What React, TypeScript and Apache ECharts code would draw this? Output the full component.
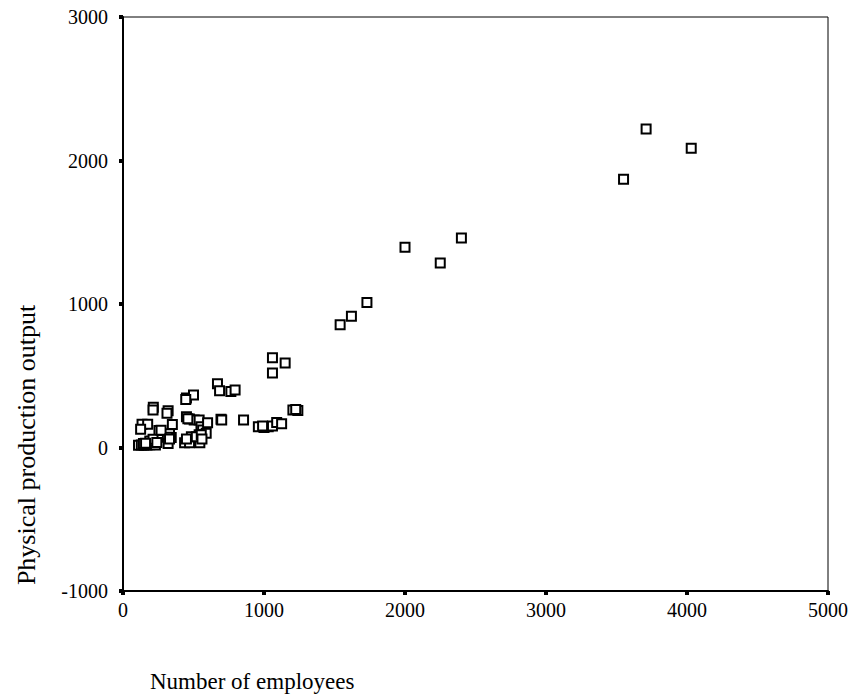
import React, { useEffect, useRef } from "react";
import * as echarts from "echarts";

const xTicks = [0, 1000, 2000, 3000, 4000, 5000];
const yTicks = [-1000, 0, 1000, 2000, 3000];
const xTitle = "Number of employees";
const yTitle = "Physical production output";

// [employees, output]
const points: [number, number][] = [
  [4030, 2085], [3710, 2220], [3550, 1870], [2400, 1460], [2000, 1395], [2250, 1285],
  [1730, 1010], [1620, 915], [1540, 855],
  [1060, 625], [1150, 588], [1060, 520],
  [670, 445], [685, 396], [765, 390], [795, 400],
  [450, 345], [500, 365], [445, 335],
  [215, 280], [213, 262], [320, 256], [312, 238],
  [1205, 262], [1240, 258], [1225, 265],
  [135, 162], [175, 162], [125, 128],
  [255, 118], [330, 95], [342, 70], [315, 72], [350, 160],
  [450, 215], [472, 198], [505, 192], [540, 192], [460, 200],
  [553, 145], [565, 122], [590, 100], [540, 88],
  [600, 172], [695, 196], [700, 192], [855, 192],
  [960, 145], [1000, 140], [1030, 145], [1060, 150], [990, 150],
  [1090, 175], [1125, 165],
  [437, 33], [472, 33], [545, 33], [485, 75], [520, 75], [555, 88],
  [110, 15], [130, 17], [150, 15], [170, 18], [190, 20], [210, 25], [230, 18],
  [145, 28], [190, 45], [213, 58], [320, 28], [270, 120], [160, 30], [240, 35],
  [330, 60], [560, 60], [450, 60],
];

const FONT = '"Liberation Serif", "Times New Roman", serif';

export default function App() {
  const ref = useRef<HTMLDivElement>(null);
  useEffect(() => {
    if (!ref.current) return;
    const chart = echarts.init(ref.current, null, { renderer: "svg" });
    chart.setOption({
      animation: false,
      backgroundColor: "#fff",
      grid: {
        left: 123,
        top: 17,
        width: 710,
        height: 574,
        show: true,
        borderColor: "#000",
        borderWidth: 1,
        backgroundColor: "transparent",
      },
      xAxis: {
        type: "value",
        min: xTicks[0],
        max: xTicks[xTicks.length - 1],
        interval: 1000,
        axisLine: { show: true, onZero: false, lineStyle: { color: "#000", width: 2 } },
        axisTick: { show: true, length: 4, lineStyle: { color: "#000", width: 4 } },
        axisLabel: {
          color: "#000",
          fontFamily: FONT,
          fontSize: 20,
          margin: 9,
          formatter: (v: number) => String(v),
        },
        splitLine: { show: false },
      },
      yAxis: {
        type: "value",
        min: yTicks[0],
        max: yTicks[yTicks.length - 1],
        interval: 1000,
        axisLine: { show: true, onZero: false, lineStyle: { color: "#000", width: 2 } },
        axisTick: { show: true, length: 4, lineStyle: { color: "#000", width: 4 } },
        axisLabel: {
          color: "#000",
          fontFamily: FONT,
          fontSize: 20,
          margin: 15,
          formatter: (v: number) => String(v),
        },
        splitLine: { show: false },
      },
      graphic: [
        {
          type: "text",
          left: 150,
          top: 670,
          style: { text: xTitle, font: `23px ${FONT}`, fill: "#000" },
        },
        {
          type: "text",
          x: 26,
          y: 445,
          rotation: Math.PI / 2,
          style: {
            text: yTitle,
            font: `26px ${FONT}`,
            fill: "#000",
            textAlign: "center",
            textVerticalAlign: "middle",
          },
        },
      ],
      series: [
        {
          type: "scatter",
          data: points,
          symbol: "rect",
          symbolSize: 9,
          itemStyle: { color: "#fff", borderColor: "#000", borderWidth: 2, opacity: 1 },
        },
      ],
    });
    return () => chart.dispose();
  }, []);
  return (
    <div
      ref={ref}
      style={{ position: "fixed", left: 0, top: 0, width: 851, height: 700 }}
    />
  );
}
